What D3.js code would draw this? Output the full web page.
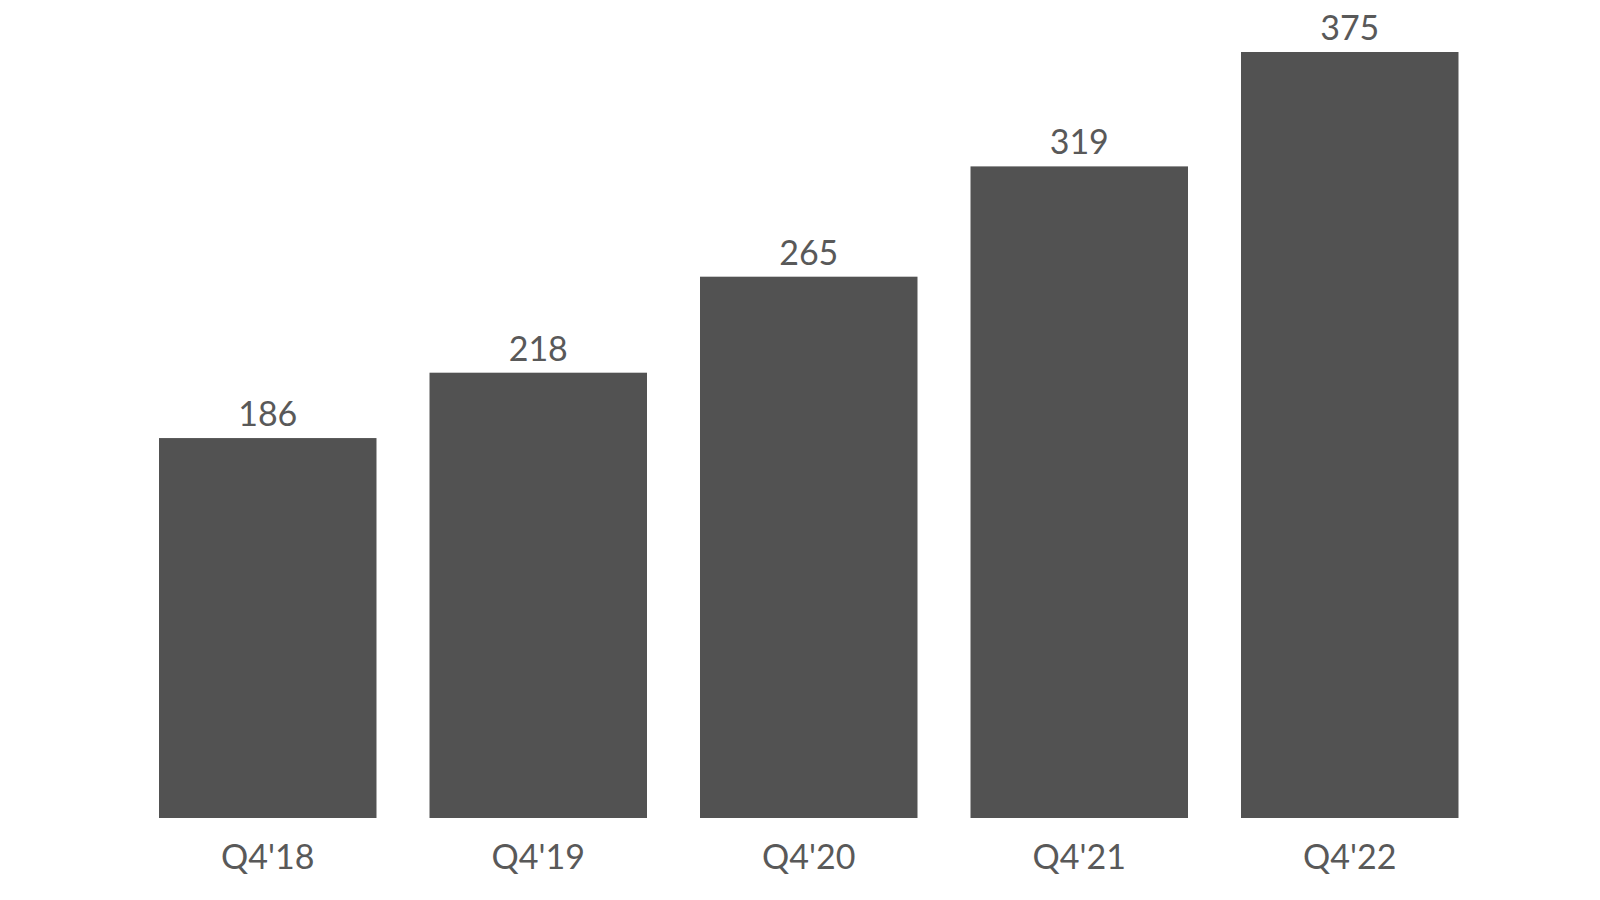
<!DOCTYPE html>
<html>
<head>
<meta charset="utf-8">
<script src="https://cdn.jsdelivr.net/npm/d3@7/dist/d3.min.js"></script>
<style>
html,body{margin:0;padding:0;background:#fff;}
svg{display:block;}
</style>
</head>
<body>
<svg id="chart" width="1600" height="900"></svg>
<script>
const categories = ["Q4'18", "Q4'19", "Q4'20", "Q4'21", "Q4'22"];
const values = [186, 218, 265, 319, 375];

const svg = d3.select("#chart");
const x = d3.scaleBand()
  .domain(categories)
  .range([132.5, 1485])
  .paddingInner(0.196)
  .paddingOuter(0.098);
const y = d3.scaleLinear()
  .domain([0, 375])
  .range([818, 52]);

const data = categories.map((c, i) => ({c, v: values[i]}));

svg.append("g").selectAll("rect")
  .data(data)
  .join("rect")
  .attr("x", d => x(d.c))
  .attr("y", d => y(d.v))
  .attr("width", x.bandwidth())
  .attr("height", d => y(0) - y(d.v))
  .attr("fill", "#525252");

svg.append("g").selectAll("text")
  .data(data)
  .join("text")
  .attr("x", d => x(d.c) + x.bandwidth() / 2)
  .attr("y", d => y(d.v) - 12)
  .attr("text-anchor", "middle")
  .attr("font-family", "Lato, 'Open Sans', sans-serif")
  .attr("font-size", 34)
  .attr("fill", "#595959")
  .text(d => d.v);

const xAxis = d3.axisBottom(x).tickSize(0).tickPadding(0);
const gx = svg.append("g")
  .attr("transform", `translate(0,${y(0)})`)
  .call(xAxis);
gx.select(".domain").remove();
gx.selectAll("text")
  .attr("dy", null)
  .attr("y", 51)
  .attr("font-family", "Lato, 'Open Sans', sans-serif")
  .attr("font-size", 34)
  .attr("fill", "#595959");
</script>
</body>
</html>
